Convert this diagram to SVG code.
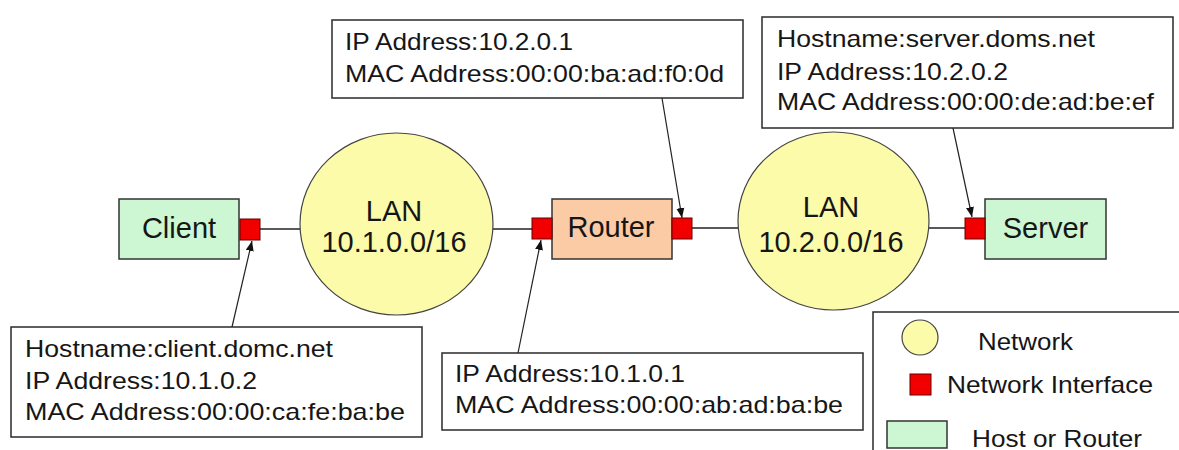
<svg xmlns="http://www.w3.org/2000/svg" width="1179" height="450" viewBox="0 0 1179 450">
<style>
text{font-family:"Liberation Sans",Arial,sans-serif;fill:#161616}
.lbl{font-size:29px;text-anchor:middle}
.co{font-size:24px}
.box{fill:#fff;stroke:#2a2a2a;stroke-width:1.5}
.host{fill:#ccf7d2;stroke:#333;stroke-width:1.5}
.rtr{fill:#fbcba5;stroke:#333;stroke-width:1.5}
.net{fill:#fcfbaa;stroke:#444;stroke-width:1.2}
.ifc{fill:#f20000;stroke:#600;stroke-width:1}
.wire{stroke:#222;stroke-width:1.5;fill:none}
.ptr{stroke:#222;stroke-width:1.2;fill:none;marker-end:url(#ah)}
</style>
<defs>
<marker id="ah" viewBox="0 0 10 10" refX="10" refY="5" markerWidth="10" markerHeight="10" markerUnits="userSpaceOnUse" orient="auto">
<path d="M0,1 L10,5 L0,9 z" fill="#111"/>
</marker>
</defs>
<rect width="1179" height="450" fill="#fff"/>

<g id="connectors">
<line class="wire" x1="260" y1="229" x2="300" y2="229"/>
<line class="wire" x1="493" y1="229" x2="532" y2="229"/>
<line class="wire" x1="692" y1="228" x2="738" y2="228"/>
<line class="wire" x1="929" y1="228" x2="965" y2="228"/>
<line class="ptr" x1="232" y1="327" x2="252" y2="241"/>
<line class="ptr" x1="518" y1="353" x2="541" y2="240"/>
<line class="ptr" x1="662" y1="98" x2="682" y2="218"/>
<line class="ptr" x1="953" y1="128" x2="972" y2="217"/>
</g>

<g id="client">
<rect class="host" x="119" y="199" width="120" height="60"/>
<text class="lbl" x="179" y="238">Client</text>
</g>
<g id="client-if"><rect class="ifc" x="240" y="219" width="20" height="21"/></g>

<g id="lan1">
<ellipse class="net" cx="396.5" cy="224" rx="96.5" ry="91"/>
<text class="lbl" x="394" y="221">LAN</text>
<text class="lbl" x="394" y="252">10.1.0.0/16</text>
</g>

<g id="router">
<rect class="rtr" x="552" y="199" width="120" height="60"/>
<text class="lbl" x="611" y="237">Router</text>
</g>
<g id="router-if1"><rect class="ifc" x="532" y="218" width="20" height="21"/></g>
<g id="router-if2"><rect class="ifc" x="672" y="218" width="20" height="21"/></g>

<g id="lan2">
<ellipse class="net" cx="833.5" cy="221" rx="95.5" ry="89"/>
<text class="lbl" x="831" y="217">LAN</text>
<text class="lbl" x="831" y="252">10.2.0.0/16</text>
</g>

<g id="server">
<rect class="host" x="985" y="199" width="121" height="60"/>
<text class="lbl" x="1045.5" y="238">Server</text>
</g>
<g id="server-if"><rect class="ifc" x="965" y="218" width="20" height="21"/></g>

<g id="client-info">
<rect class="box" x="11" y="327" width="411" height="110"/>
<text class="co" x="25" y="357" textLength="308" lengthAdjust="spacingAndGlyphs">Hostname:client.domc.net</text>
<text class="co" x="25" y="389" textLength="232" lengthAdjust="spacingAndGlyphs">IP Address:10.1.0.2</text>
<text class="co" x="25" y="420" textLength="380" lengthAdjust="spacingAndGlyphs">MAC Address:00:00:ca:fe:ba:be</text>
</g>

<g id="router-info-lan1">
<rect class="box" x="442" y="353" width="421" height="77"/>
<text class="co" x="455" y="382" textLength="230" lengthAdjust="spacingAndGlyphs">IP Address:10.1.0.1</text>
<text class="co" x="455" y="413" textLength="388" lengthAdjust="spacingAndGlyphs">MAC Address:00:00:ab:ad:ba:be</text>
</g>

<g id="router-info-lan2">
<rect class="box" x="332" y="20" width="411" height="78"/>
<text class="co" x="345" y="50" textLength="228" lengthAdjust="spacingAndGlyphs">IP Address:10.2.0.1</text>
<text class="co" x="345" y="82" textLength="379" lengthAdjust="spacingAndGlyphs">MAC Address:00:00:ba:ad:f0:0d</text>
</g>

<g id="server-info">
<rect class="box" x="762" y="17" width="411" height="111"/>
<text class="co" x="777" y="47" textLength="318" lengthAdjust="spacingAndGlyphs">Hostname:server.doms.net</text>
<text class="co" x="777" y="80" textLength="231" lengthAdjust="spacingAndGlyphs">IP Address:10.2.0.2</text>
<text class="co" x="777" y="110" textLength="377" lengthAdjust="spacingAndGlyphs">MAC Address:00:00:de:ad:be:ef</text>
</g>

<g id="legend">
<rect class="box" x="873" y="312" width="320" height="150"/>
<ellipse class="net" cx="920" cy="337.5" rx="18" ry="17.5"/>
<text class="co" x="978" y="350" textLength="95" lengthAdjust="spacingAndGlyphs">Network</text>
<rect class="ifc" x="910" y="374" width="21" height="21"/>
<text class="co" x="947" y="393" textLength="206" lengthAdjust="spacingAndGlyphs">Network Interface</text>
<rect class="host" x="887" y="421" width="60" height="27"/>
<text class="co" x="972" y="447" textLength="170" lengthAdjust="spacingAndGlyphs">Host or Router</text>
</g>
</svg>
